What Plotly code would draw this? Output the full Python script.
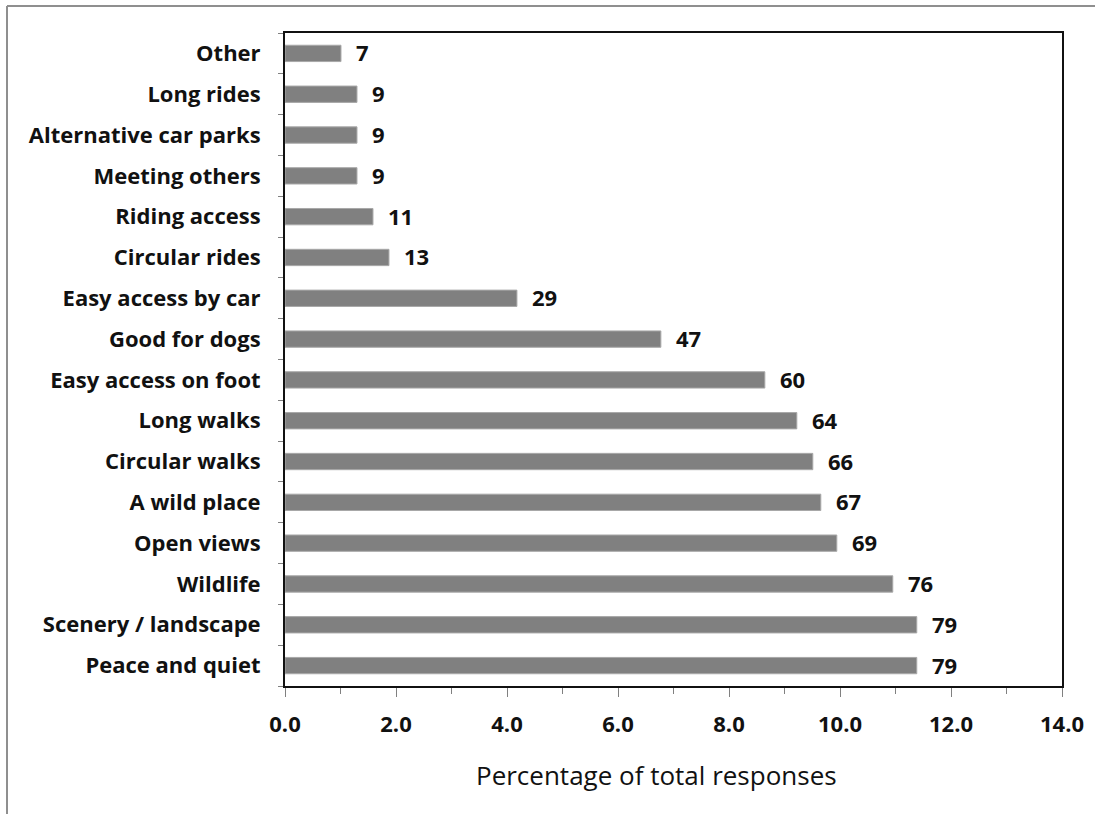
import plotly.graph_objects as go

# Reasons given, listed bottom-to-top as drawn on the category axis
reasons = [
    "Peace and quiet",
    "Scenery / landscape",
    "Wildlife",
    "Open views",
    "A wild place",
    "Circular walks",
    "Long walks",
    "Easy access on foot",
    "Good for dogs",
    "Easy access by car",
    "Circular rides",
    "Riding access",
    "Meeting others",
    "Alternative car parks",
    "Long rides",
    "Other",
]

# Number of responses per reason
responses = [79, 79, 76, 69, 67, 66, 64, 60, 47, 29, 13, 11, 9, 9, 9, 7]

# Share of all responses, in percent
total_responses = sum(responses)
share_pct = [n / total_responses * 100 for n in responses]

x_ticks = [0, 2, 4, 6, 8, 10, 12, 14]
x_tick_text = [f"{v:.1f}" for v in x_ticks]

FONT = "Open Sans"
W, H = 1095, 814
L, R, T, B = 285, 33, 33, 128
plot_w = W - L - R
plot_h = H - T - B


def px_to_paper_x(px):
    return (px - L) / plot_w


def px_to_paper_y(py):
    return (H - B - py) / plot_h


fig = go.Figure(
    go.Bar(
        x=share_pct,
        y=reasons,
        orientation="h",
        marker=dict(color="#808080", line=dict(color="#a8a8a8", width=1)),
        hoverinfo="skip",
    )
)

# Count labels to the right of each bar
for val, lab, n in zip(share_pct, reasons, responses):
    fig.add_annotation(
        x=val, y=lab, text=f"<b>{n}</b>", showarrow=False,
        xanchor="left", yanchor="middle", xshift=13, yshift=1,
        font=dict(family=FONT, size=22, color="#111111"),
    )

# Horizontal axis title
fig.add_annotation(
    xref="paper", yref="paper",
    x=px_to_paper_x(656), y=px_to_paper_y(775),
    text="Percentage of total responses", showarrow=False,
    xanchor="center", yanchor="middle",
    font=dict(family=FONT, size=26, color="#111111"),
)

# Outer chart frame (top and left edges)
frame = dict(color="#8f8f8f", width=2)
fig.add_shape(type="line", xref="paper", yref="paper",
              x0=px_to_paper_x(7), x1=px_to_paper_x(W + 5),
              y0=px_to_paper_y(6), y1=px_to_paper_y(6), line=frame)
fig.add_shape(type="line", xref="paper", yref="paper",
              x0=px_to_paper_x(7), x1=px_to_paper_x(7),
              y0=px_to_paper_y(6), y1=px_to_paper_y(H + 5), line=frame)

fig.update_layout(
    width=W,
    height=H,
    margin=dict(l=L, r=R, t=T, b=B, pad=0),
    paper_bgcolor="white",
    plot_bgcolor="white",
    bargap=0.6,
    showlegend=False,
    font=dict(family=FONT, color="#111111"),
    xaxis=dict(
        range=[0, 14],
        tickvals=x_ticks,
        ticktext=[f"<b>{t}</b>" for t in x_tick_text],
        ticks="outside",
        ticklen=9,
        tickwidth=1,
        tickcolor="#808080",
        minor=dict(dtick=1, tick0=0, ticks="outside", ticklen=6, tickcolor="#808080", showgrid=False),
        tickfont=dict(family=FONT, size=22, color="#111111"),
        showgrid=False,
        zeroline=False,
        showline=True,
        linecolor="#111111",
        linewidth=2,
        mirror=True,
        ticklabelstandoff=9,
        fixedrange=True,
    ),
    yaxis=dict(
        type="category",
        categoryorder="array",
        categoryarray=reasons,
        tickvals=reasons,
        ticktext=[f"<b>{r}</b>" for r in reasons],
        tickson="boundaries",
        ticks="outside",
        ticklen=5,
        tickcolor="#808080",
        tickfont=dict(family=FONT, size=22, color="#111111"),
        ticklabelstandoff=18,
        showgrid=False,
        zeroline=False,
        showline=True,
        linecolor="#111111",
        linewidth=2,
        mirror=True,
        fixedrange=True,
    ),
)

fig.write_html("out.html")
